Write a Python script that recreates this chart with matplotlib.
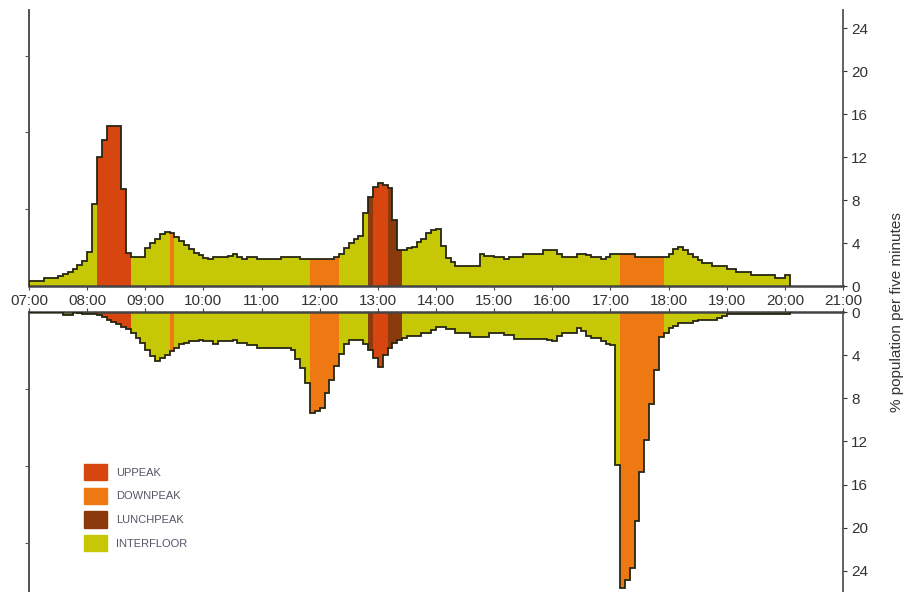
import matplotlib
matplotlib.use("Agg")
import matplotlib.pyplot as plt
from matplotlib.patches import Patch
import numpy as np

plt.rcParams["font.family"] = ["Liberation Sans", "DejaVu Sans"]

# % of population per five-minute bin, from 07:00 (one row per hour)
upper_pct = [
    0.5, 0.5, 0.5, 0.7, 0.7, 0.7, 0.9, 1.1, 1.3, 1.6, 1.95, 2.3,        # 07
    3.2, 7.6, 12.0, 13.6, 14.9, 14.9, 14.9, 9.0, 3.1, 2.7, 2.7, 2.7,    # 08
    3.5, 4.0, 4.4, 4.8, 5.0, 4.9, 4.6, 4.2, 3.8, 3.4, 3.1, 2.9,         # 09
    2.6, 2.5, 2.7, 2.7, 2.7, 2.8, 3.0, 2.7, 2.5, 2.7, 2.7, 2.5,         # 10
    2.5, 2.5, 2.5, 2.5, 2.7, 2.7, 2.7, 2.7, 2.5, 2.5, 2.5, 2.5,         # 11
    2.5, 2.5, 2.5, 2.7, 3.0, 3.5, 4.0, 4.4, 4.7, 6.8, 8.3, 9.2,         # 12
    9.55, 9.4, 9.1, 6.1, 3.35, 3.35, 3.5, 3.6, 4.1, 4.4, 4.9, 5.2,      # 13
    5.3, 3.7, 2.6, 2.2, 1.86, 1.86, 1.86, 1.86, 1.86, 3.0, 2.8, 2.8,    # 14
    2.7, 2.7, 2.5, 2.7, 2.7, 2.7, 3.0, 3.0, 3.0, 3.0, 3.35, 3.35,       # 15
    3.35, 3.0, 2.7, 2.7, 2.7, 3.0, 3.0, 2.9, 2.7, 2.7, 2.5, 2.7,        # 16
    3.0, 3.0, 3.0, 3.0, 3.0, 2.7, 2.7, 2.7, 2.7, 2.7, 2.7, 2.7,         # 17
    3.0, 3.4, 3.6, 3.35, 3.0, 2.7, 2.4, 2.1, 2.1, 1.86, 1.86, 1.86,     # 18
    1.6, 1.6, 1.3, 1.3, 1.3, 1.0, 1.0, 1.0, 1.0, 1.0, 0.7, 0.7,         # 19
    1.0,                                                                # 20
]
lower_pct = [
    0.0, 0.0, 0.0, 0.0, 0.0, 0.0, 0.0, 0.3, 0.3, 0.0, 0.1, 0.15,        # 07
    0.15, 0.2, 0.3, 0.5, 0.7, 0.9, 1.1, 1.35, 1.6, 1.95, 2.4, 2.9,      # 08
    3.5, 4.1, 4.5, 4.3, 3.95, 3.6, 3.3, 3.0, 2.9, 2.7, 2.7, 2.6,        # 09
    2.7, 2.7, 3.0, 2.7, 2.7, 2.7, 2.6, 2.9, 2.9, 3.1, 3.1, 3.3,         # 10
    3.3, 3.3, 3.3, 3.3, 3.3, 3.3, 3.5, 4.4, 5.2, 6.6, 9.4, 9.2,         # 11
    8.9, 7.5, 6.3, 5.0, 3.9, 3.0, 2.6, 2.6, 2.6, 3.0, 3.5, 4.3,         # 12
    5.1, 3.95, 3.3, 2.9, 2.6, 2.4, 2.25, 2.25, 2.25, 1.95, 1.95, 1.7,   # 13
    1.4, 1.4, 1.6, 1.6, 1.95, 1.95, 1.95, 2.35, 2.35, 2.35, 2.35, 1.95, # 14
    1.95, 1.95, 2.1, 2.1, 2.5, 2.5, 2.5, 2.5, 2.5, 2.5, 2.5, 2.6,       # 15
    2.65, 2.25, 1.95, 1.95, 1.9, 1.5, 1.8, 2.2, 2.4, 2.4, 2.7, 3.0,     # 16
    3.1, 14.2, 25.6, 24.8, 23.7, 19.4, 14.8, 11.9, 8.5, 5.4, 2.3, 1.95, # 17
    1.5, 1.3, 1.0, 1.0, 1.0, 0.85, 0.7, 0.7, 0.7, 0.7, 0.55, 0.4,       # 18
    0.2, 0.2, 0.2, 0.2, 0.2, 0.2, 0.2, 0.15, 0.15, 0.15, 0.15, 0.15,    # 19
    0.15,                                                               # 20
]

# traffic pattern periods (start, end)
uppeak = [("08:10", "08:45"), ("12:55", "13:10")]
downpeak = [("09:25", "09:30"), ("11:50", "12:20"), ("17:10", "17:55")]
lunchpeak = [("12:50", "12:55"), ("13:10", "13:25")]

hour_labels = ["%02d:00" % h for h in range(7, 22)]
pct_ticks = [0, 4, 8, 12, 16, 20, 24]

colors = {
    "UPPEAK": "#d8460f",
    "DOWNPEAK": "#ee7812",
    "LUNCHPEAK": "#8a3a0c",
    "INTERFLOOR": "#c6c705",
}


def to_hour(s):
    h, m = s.split(":")
    return int(h) + int(m) / 60.0


n = len(upper_pct)
starts = 7 + np.arange(n) / 12.0
edges = 7 + np.arange(n + 1) / 12.0

cat = np.array(["INTERFLOOR"] * n, dtype=object)
for name, periods in (("UPPEAK", uppeak), ("DOWNPEAK", downpeak), ("LUNCHPEAK", lunchpeak)):
    for a, b in periods:
        sel = (starts >= to_hour(a) - 1e-6) & (starts < to_hour(b) - 1e-6)
        cat[sel] = name

W, H = 910, 592
fig = plt.figure(figsize=(W / 100, H / 100), dpi=100)
ax_up = fig.add_axes([29 / W, 1 - 286 / H, 814 / W, 276 / H])
ax_dn = fig.add_axes([29 / W, 0, 814 / W, 280 / H])

spine_col = "#555555"
for ax, vals in ((ax_up, upper_pct), (ax_dn, lower_pct)):
    vals = np.array(vals)
    for name, col in colors.items():
        part = np.where(cat == name, vals, 0.0)
        ax.stairs(part, edges, baseline=0, fill=True, color=col,
                  linewidth=0, zorder=2)
    ax.stairs(vals, edges, baseline=0, color="#262612", linewidth=1.3, zorder=3)
    ax.set_xlim(7, 21)
    ax.set_xticks(range(7, 22))
    ax.yaxis.tick_right()
    ax.set_yticks(pct_ticks)
    ax.tick_params(axis="y", direction="out", length=3, labelsize=11,
                   colors="#333333", pad=3)
    ax.tick_params(axis="x", direction="out", length=3, colors="#444444")
    for sp in ax.spines.values():
        sp.set_color(spine_col)
        sp.set_linewidth(1.3)
    # unlabelled ticks on the left side
    sec = ax.secondary_yaxis("left", functions=(lambda y: y / 7.15, lambda y: y * 7.15))
    sec.set_yticks([1, 2, 3])
    sec.set_yticklabels([])
    sec.tick_params(direction="out", length=3, color=spine_col)
    sec.spines["left"].set_color(spine_col)
    sec.spines["left"].set_linewidth(1.3)

ax_up.set_ylim(0, 25.7)
ax_up.spines["top"].set_visible(False)
ax_up.spines["bottom"].set_linewidth(1.8)
ax_up.spines["bottom"].set_color("#444444")
ax_up.set_xticklabels(hour_labels)
ax_up.tick_params(axis="x", labelsize=11, labelcolor="#333333", pad=2.5)

ax_dn.set_ylim(25.95, 0)
ax_dn.spines["bottom"].set_visible(False)
ax_dn.spines["top"].set_linewidth(1.8)
ax_dn.spines["top"].set_color("#444444")
ax_dn.xaxis.tick_top()
ax_dn.tick_params(axis="x", labeltop=False)

fig.text(0.986, 0.473, "% population per five minutes", rotation=90,
         ha="center", va="center", fontsize=11, color="#333333")

handles = [Patch(facecolor=colors[k], edgecolor=colors[k]) for k in colors]
fig.legend(handles, list(colors.keys()), loc="upper left",
           bbox_to_anchor=(84 / W, 1 - 464 / H), frameon=False,
           borderpad=0, borderaxespad=0, fontsize=8, handlelength=2.1,
           handleheight=1.9, labelspacing=0.65, handletextpad=0.75,
           labelcolor="#555566")

fig.savefig("out.png", dpi=100)
